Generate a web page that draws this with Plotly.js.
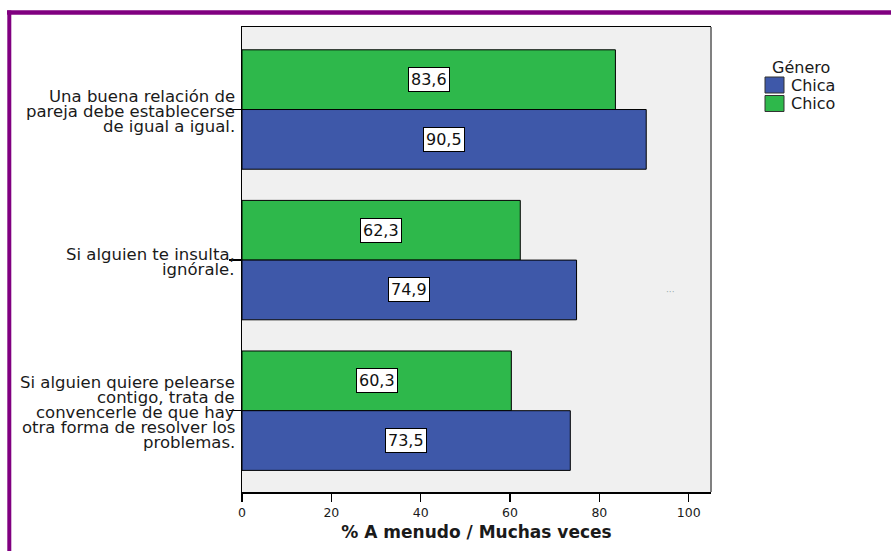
<!DOCTYPE html>
<html>
<head>
<meta charset="utf-8">
<script src="https://cdn.plot.ly/plotly-3.0.1.min.js"></script>
<style>html,body{margin:0;padding:0;background:#fff;}#chart{width:891px;height:551px;}</style>
</head>
<body>
<div id="chart"></div>
<script>
// ---- data ----
const categoryLines = [
  ["Una buena relación de", "pareja debe establecerse", "de igual a igual."],
  ["Si alguien te insulta,", "ignórale."],
  ["Si alguien quiere pelearse", "contigo, trata de", "convencerle de que hay", "otra forma de resolver los", "problemas."]
];
const categories = categoryLines.map(l => l.join(" "));
const chica = [90.5, 74.9, 73.5];
const chico = [83.6, 62.3, 60.3];
const seriesNames = ["Chica", "Chico"];
const xTicks = [0, 20, 40, 60, 80, 100];
const legendTitle = "Género";
const xTitle = "% A menudo / Muchas veces";

// ---- style ----
const BLUE = "#3E58A9";
const GREEN = "#2EB84B";
const FONT = "DejaVu Sans, Verdana, sans-serif";
const W = 891, H = 551;
const M = {l: 242, r: W - 711, t: 27, b: H - 492};
const PW = W - M.l - M.r, PH = H - M.t - M.b;
const px2x = p => (p - M.l) / PW;
const py2y = p => (M.t + PH - p) / PH;
const bargap = 0.207;
const barW = (1 - bargap) / 2;

const traces = [
  {type: "bar", orientation: "h", name: seriesNames[1], x: chico, y: categories,
   marker: {color: GREEN, line: {color: "#000", width: 1}}, hoverinfo: "x+name"},
  {type: "bar", orientation: "h", name: seriesNames[0], x: chica, y: categories,
   marker: {color: BLUE, line: {color: "#000", width: 1}}, hoverinfo: "x+name"}
];

const fmt = v => v.toFixed(1).replace(".", ",");
const annotations = [];
// value boxes
[[chico, -barW / 2], [chica, barW / 2]].forEach(([vals, off]) => {
  vals.forEach((v, i) => {
    annotations.push({x: v / 2, y: i + off, xref: "x", yref: "y", text: fmt(v), showarrow: false,
      font: {family: FONT, size: 16, color: "#111"}, bgcolor: "#fff", bordercolor: "#000",
      borderwidth: 1, borderpad: 2});
  });
});
// category labels (one annotation per line for tight line spacing)
categoryLines.forEach((lines, i) => {
  lines.forEach((ln, k) => {
    annotations.push({x: px2x(237), y: i, xref: "paper", yref: "y", xanchor: "right", yanchor: "middle",
      text: ln, showarrow: false, font: {family: FONT, size: 16.5, color: "#1a1a1a"},
      yshift: -((k - (lines.length - 1) / 2) * 15 + 2)});
  });
});
// legend (manual)
annotations.push({x: px2x(770), y: py2y(67), xref: "paper", yref: "paper", xanchor: "left", yanchor: "middle",
  text: legendTitle, showarrow: false, font: {family: FONT, size: 16, color: "#1a1a1a"}});
const legendItems = [[seriesNames[0], BLUE, 85], [seriesNames[1], GREEN, 103.5]];
const shapes = [];
legendItems.forEach(([name, col, cy]) => {
  annotations.push({x: px2x(789), y: py2y(cy), xref: "paper", yref: "paper", xanchor: "left", yanchor: "middle",
    text: name, showarrow: false, font: {family: FONT, size: 16, color: "#1a1a1a"}});
  shapes.push({type: "rect", xref: "paper", yref: "paper", x0: px2x(765), x1: px2x(784),
    y0: py2y(cy - 8), y1: py2y(cy + 8), fillcolor: col, line: {color: "#333", width: 1}});
});
// small ellipsis mark
annotations.push({x: px2x(677), y: py2y(292), xref: "paper", yref: "paper", text: "···", showarrow: false,
  font: {family: FONT, size: 9, color: "#9aa"}});
// right border of plot (gray)
shapes.push({type: "line", xref: "paper", yref: "paper", x0: 1, x1: 1, y0: 0, y1: 1,
  line: {color: "#808080", width: 2}});
// purple frame
shapes.push({type: "line", xref: "paper", yref: "paper", x0: px2x(7), x1: px2x(891), y0: py2y(12.5), y1: py2y(12.5),
  line: {color: "#800080", width: 4.5}});
shapes.push({type: "line", xref: "paper", yref: "paper", x0: px2x(9.3), x1: px2x(9.3), y0: py2y(10.5), y1: py2y(551),
  line: {color: "#800080", width: 4}});

const layout = {
  width: W, height: H, margin: M, showlegend: false,
  paper_bgcolor: "#fff", plot_bgcolor: "#F0F0F0",
  barmode: "group", bargap: bargap, bargroupgap: 0,
  font: {family: FONT, color: "#1a1a1a"},
  xaxis: {range: [0, 105], tickvals: xTicks, ticktext: xTicks.map(String), showgrid: false, zeroline: false,
    showline: true, linecolor: "#000", linewidth: 1.5, mirror: true, ticks: "outside", ticklen: 8,
    tickcolor: "#000", tickwidth: 1.5, tickfont: {family: FONT, size: 12.5, color: "#1a1a1a"},
    title: {text: "<b>" + xTitle + "</b>", font: {family: FONT, size: 17, color: "#1a1a1a"}, standoff: 7}},
  yaxis: {type: "category", categoryorder: "array", categoryarray: categories, range: [2.54, -0.548],
    showticklabels: false, showgrid: false, zeroline: false, showline: true, linecolor: "#000", linewidth: 1.5,
    ticks: "outside", ticklen: 12, tickcolor: "#000", tickwidth: 1.5},
  annotations: annotations, shapes: shapes
};

Plotly.newPlot("chart", traces, layout, {displayModeBar: false, staticPlot: true});
</script>
</body>
</html>
